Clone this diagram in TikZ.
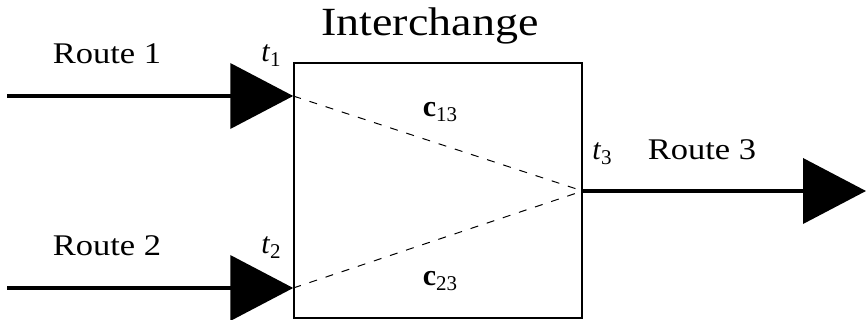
\documentclass[tikz,border=0pt]{standalone}
\usepackage{fontspec}
\setmainfont{Liberation Serif}
\usetikzlibrary{arrows.meta,positioning}

\tikzset{
  route/.style={line width=4pt,-{Triangle[length=63pt,width=65pt]}},
  link/.style={dash pattern=on 8pt off 9pt,line width=1pt},
  lbl/.style={font=\fontsize{30}{34}\selectfont,inner sep=0pt,anchor=base},
}
\newcommand{\wide}[1]{\scalebox{1.15}[1]{#1}}
\newcommand{\lowidx}[1]{\raisebox{-5pt}{\fontsize{21}{23}\selectfont #1}}

\begin{document}
\begin{tikzpicture}[x=1pt,y=-1pt]
    \useasboundingbox (0,0) rectangle (866,320);
    % the interchange
    \node[draw,line width=1.5pt,minimum width=288pt,minimum height=255pt,inner sep=0pt] (ic) at (438,190.5) {};
    \node[font=\fontsize{40}{44}\selectfont,inner sep=0pt,above=18pt of ic,xshift=-8pt] (title) {\wide{Interchange}};
    % ends of the routes
    \coordinate (in1) at (7,96);
    \coordinate (in2) at (7,288);
    \coordinate (out3) at (866,191);
    \coordinate (t1) at (ic.west |- in1);
    \coordinate (t2) at (ic.west |- in2);
    \coordinate (t3) at (ic.east |- out3);
    \draw[route] (in1) -- (t1);
    \draw[route] (in2) -- (t2);
    \draw[route] (t3) -- (out3);
    \draw[link] (t1) -- (t3);
    \draw[link] (t2) -- (t3);
    % labels
    \node[lbl] (r1) at (107,64) {\wide{Route 1}};
    \node[lbl] (r2) at (107,255) {\wide{Route 2}};
    \node[lbl] (r3) at (702,160) {\wide{Route 3}};
    \node[lbl] (l1) at (271,62) {\textit{t}\lowidx{1}};
    \node[lbl] (l2) at (271,253) {\textit{t}\lowidx{2}};
    \node[lbl] (l3) at (602,160) {\textit{t}\lowidx{3}};
    \node[lbl] (c13) at (440,117) {\textbf{c}\lowidx{13}};
    \node[lbl] (c23) at (440,285) {\textbf{c}\lowidx{23}};
\end{tikzpicture}
\end{document}
